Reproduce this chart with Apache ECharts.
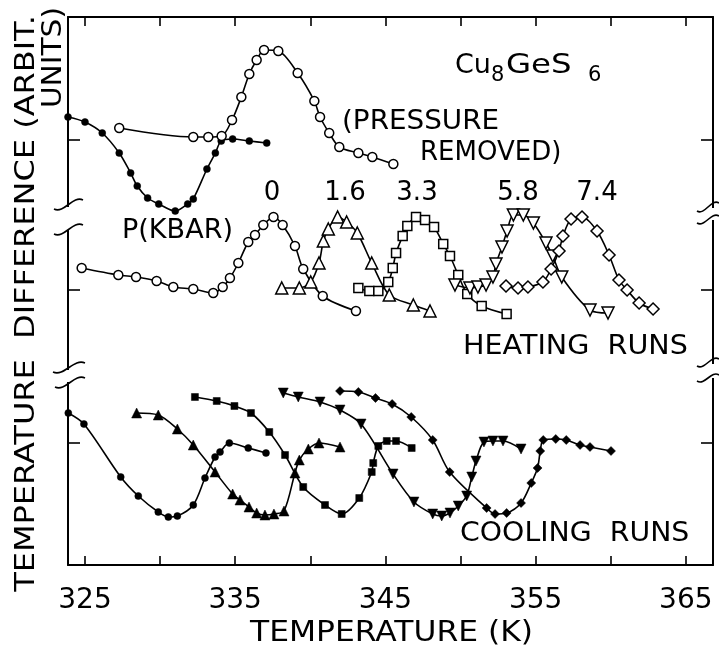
<!DOCTYPE html>
<html>
<head>
<meta charset="utf-8">
<script src="https://cdn.jsdelivr.net/npm/echarts@6/dist/echarts.min.js"></script>
<style>html,body{margin:0;padding:0;background:#fff;}#c{width:719px;height:647px;}</style>
</head>
<body>
<div id="c"></div>
<script>
// ---- axis ticks / labels ----
const xTicks = [325, 330, 335, 340, 345, 350, 355, 360, 365];
const xLabels = [325, 335, 345, 355, 365];
const yTicks = [12.2, 27.5, 42.5];

// ---- top panel: pressure cycle ----
const topFilledT = [323.87, 325.0, 326.15, 327.28, 328.04, 328.48, 329.17, 329.91, 331.01, 331.84, 332.21, 333.12, 333.68, 334.07, 334.83, 335.94, 337.10];
const topFilledY = [44.8, 44.3, 43.2, 41.2, 39.2, 37.9, 36.7, 36.1, 35.4, 36.1, 36.6, 39.6, 41.2, 42.4, 42.6, 42.4, 42.2];
const removedT = [327.28, 332.21, 333.21, 334.10, 334.79, 335.41, 335.94, 336.43, 336.92, 337.87, 339.16, 340.27, 340.65, 341.26, 341.93, 343.20, 344.13, 345.53];
const removedY = [43.7, 42.8, 42.8, 42.9, 44.5, 46.8, 49.1, 50.5, 51.5, 51.4, 49.2, 46.4, 44.8, 43.2, 41.8, 41.2, 40.8, 40.1];

// ---- heating runs (open symbols) ----
const h0T = [324.78, 327.22, 328.40, 329.77, 330.88, 332.21, 333.54, 334.17, 334.65, 335.21, 335.87, 336.32, 336.87, 337.55, 338.16, 338.98, 339.53, 340.83, 343.04];
const h0Y = [29.7, 29.0, 28.8, 28.4, 27.8, 27.6, 27.2, 27.8, 28.7, 30.2, 32.3, 33.0, 34.0, 34.8, 34.0, 31.9, 29.6, 26.9, 25.4];
const h16T = [338.10, 339.27, 340.03, 340.58, 340.87, 341.20, 341.82, 342.42, 343.13, 344.09, 345.26, 346.86, 347.97];
const h16Y = [27.7, 27.7, 28.3, 30.2, 32.4, 33.6, 34.8, 34.3, 33.2, 30.2, 27.0, 26.0, 25.4];
const h33T = [343.20, 343.93, 344.53, 345.19, 345.49, 345.71, 346.15, 346.46, 347.04, 347.64, 348.24, 348.85, 349.30, 349.85, 350.45, 351.41, 353.07];
const h33Y = [27.7, 27.4, 27.4, 28.3, 29.7, 31.2, 32.9, 33.9, 34.8, 34.5, 33.8, 32.1, 30.9, 29.0, 27.1, 25.9, 25.1];
const h58T = [349.63, 350.63, 351.16, 351.70, 352.16, 352.36, 352.76, 353.10, 353.52, 354.18, 354.85, 355.69, 356.14, 356.74, 358.62, 359.82];
const h58Y = [28.0, 27.7, 27.8, 28.0, 28.8, 30.1, 31.8, 33.4, 35.0, 35.0, 34.2, 32.2, 30.9, 28.8, 25.5, 25.2];
const h74T = [353.03, 353.83, 354.49, 355.49, 356.03, 356.56, 356.82, 357.36, 358.09, 359.09, 359.89, 360.55, 361.09, 361.89, 362.82];
const h74Y = [27.9, 27.7, 27.8, 28.3, 29.6, 31.4, 32.9, 34.6, 34.8, 33.4, 31.0, 28.5, 27.5, 26.2, 25.6];

// ---- cooling runs (filled symbols) ----
const c0T = [323.89, 324.93, 327.38, 328.55, 329.88, 330.55, 331.15, 332.21, 332.99, 333.66, 333.99, 334.61, 335.87, 337.05];
const c0Y = [15.2, 14.1, 8.8, 6.9, 5.3, 4.8, 4.9, 6.0, 8.7, 10.8, 11.3, 12.2, 11.7, 11.2];
const c16T = [328.44, 329.88, 331.15, 332.21, 333.66, 334.83, 335.32, 335.92, 336.43, 336.98, 337.58, 338.25, 338.98, 339.27, 339.87, 340.58, 341.98];
const c16Y = [15.2, 15.0, 13.6, 12.0, 9.3, 7.1, 6.5, 5.8, 5.2, 5.0, 5.1, 5.4, 9.2, 10.5, 11.6, 12.2, 11.8];
const c33T = [332.32, 333.77, 334.95, 336.05, 337.27, 338.32, 339.53, 340.98, 342.09, 343.26, 344.09, 344.19, 344.53, 345.09, 345.71, 346.75];
const c33Y = [16.8, 16.4, 15.9, 15.2, 13.3, 11.0, 7.8, 6.0, 5.1, 6.7, 9.3, 10.2, 11.9, 12.4, 12.4, 11.7];
const c58T = [338.20, 339.20, 340.65, 341.98, 343.38, 345.51, 346.90, 348.15, 348.75, 349.30, 349.85, 350.41, 350.75, 351.03, 351.56, 352.16, 352.83, 354.03];
const c58Y = [17.2, 16.8, 16.3, 15.5, 14.1, 9.1, 6.3, 5.1, 4.9, 5.2, 5.9, 6.9, 8.8, 10.4, 12.3, 12.4, 12.4, 11.6];
const c74T = [341.98, 343.20, 344.34, 345.45, 346.72, 348.15, 349.28, 351.74, 352.30, 353.07, 354.03, 354.71, 355.13, 355.31, 355.51, 356.34, 357.04, 357.96, 358.62, 360.02];
const c74Y = [17.4, 17.3, 16.7, 16.1, 14.8, 12.5, 9.3, 5.7, 5.1, 5.2, 6.2, 8.2, 9.7, 11.4, 12.5, 12.6, 12.5, 12.0, 11.8, 11.4];

// ---- text ----
const pressureLabels = ['0', '1.6', '3.3', '5.8', '7.4'];

const FONT = '"DejaVu Sans", sans-serif';
const zip = (a, b) => a.map((v, i) => [v, b[i]]);

function mk(name, T, Y, symbol, size, open, rotate) {
  return {
    name: name, type: 'line', data: zip(T, Y), smooth: 0.3,
    symbol: symbol, symbolSize: size, symbolRotate: rotate || 0,
    showAllSymbol: true, clip: false,
    lineStyle: { color: '#000', width: 1.6 },
    itemStyle: open ? { color: '#fff', borderColor: '#000', borderWidth: 1.5 }
                    : { color: '#000', borderColor: '#000', borderWidth: 0.5 },
    emphasis: { disabled: true }, animation: false
  };
}

const series = [
  mk('top filled', topFilledT, topFilledY, 'circle', 7, false),
  mk('pressure removed', removedT, removedY, 'circle', 9, true),
  mk('heat 0', h0T, h0Y, 'circle', 9, true),
  mk('heat 1.6', h16T, h16Y, 'triangle', 12, true),
  mk('heat 3.3', h33T, h33Y, 'rect', 9, true),
  mk('heat 5.8', h58T, h58Y, 'triangle', 12, true, 180),
  mk('heat 7.4', h74T, h74Y, 'diamond', 12, true),
  mk('cool 0', c0T, c0Y, 'circle', 7, false),
  mk('cool 1.6', c16T, c16Y, 'triangle', 10, false),
  mk('cool 3.3', c33T, c33Y, 'rect', 7, false),
  mk('cool 5.8', c58T, c58Y, 'triangle', 10, false, 180),
  mk('cool 7.4', c74T, c74Y, 'diamond', 9, false)
];

function txt(text, x, y, size, align, sx) {
  return { type: 'text', x: x, y: y, z: 100, silent: true, scaleX: sx || 1,
    style: { text: text, font: size + 'px ' + FONT, fill: '#000', textAlign: align || 'left', textVerticalAlign: 'middle' } };
}
function brk(x1, y1, x2, y2) {
  const dx = x2 - x1;
  return { type: 'bezierCurve', z: 100, silent: true,
    shape: { x1: x1, y1: y1, x2: x2, y2: y2,
      cpx1: x1 + dx * 0.35, cpy1: y1 + 5, cpx2: x1 + dx * 0.65, cpy2: y2 - 5 },
    style: { stroke: '#000', lineWidth: 1.6, fill: null } };
}
function gap(x, y1, y2) {
  return { type: 'rect', z: 99, silent: true, shape: { x: x - 4, y: y1, width: 8, height: y2 - y1 }, style: { fill: '#fff' } };
}

const pxPos = [272, 345, 417, 518, 597];
const graphic = [
  // compound name
  txt('Cu', 455, 66, 27), txt('8', 491, 76, 21), txt('GeS', 506, 66, 27, 'left', 1.2), txt('6', 588, 76, 21),
  txt('(PRESSURE', 342, 122, 26, 'left', 1.07), txt('REMOVED)', 420, 153, 26),
  txt('P(KBAR)', 122, 231, 26, 'left', 1.04),
  txt('HEATING  RUNS', 463, 347, 26, 'left', 1.1), txt('COOLING  RUNS', 460, 534, 26, 'left', 1.09),
  txt('TEMPERATURE (K)', 250, 634, 28, 'left', 1.12),
  // breaks
  gap(68, 207, 230), brk(54, 209, 83, 200), brk(54, 234, 83, 225),
  gap(68, 370, 382), brk(53, 372, 85, 363), brk(55, 387, 85, 378),
  gap(713, 208, 220), brk(697, 211, 719, 203), brk(697, 223, 719, 216),
  gap(713, 364, 378), brk(697, 366, 719, 359), brk(697, 381, 719, 375),
  // y title
  { type: 'text', x: 27, y: 15, rotation: Math.PI / 2, scaleX: 1.23, z: 100, silent: true,
    style: { text: 'TEMPERATURE  DIFFERENCE (ARBIT.', font: '26px ' + FONT, fill: '#000', textAlign: 'right', textVerticalAlign: 'middle' } },
  { type: 'text', x: 54, y: 7, rotation: Math.PI / 2, scaleX: 1.14, z: 100, silent: true,
    style: { text: 'UNITS)', font: '26px ' + FONT, fill: '#000', textAlign: 'right', textVerticalAlign: 'middle' } }
].concat(pressureLabels.map((p, i) => txt(p, pxPos[i], 193, 26, 'center')));

const axisCommon = {
  type: 'value', min: 323.87, max: 366.81,
  axisLine: { show: true, onZero: false, lineStyle: { color: '#000', width: 2 } },
  axisTick: { show: true, inside: true, length: 9, customValues: xTicks, lineStyle: { color: '#000', width: 1.6 } },
  splitLine: { show: false }
};
const yCommon = {
  type: 'value', min: 0, max: 54.8,
  axisLine: { show: true, onZero: false, lineStyle: { color: '#000', width: 2 } },
  axisTick: { show: true, inside: true, length: 12, customValues: yTicks, lineStyle: { color: '#000', width: 1.6 } },
  axisLabel: { show: false }, splitLine: { show: false }
};

const chart = echarts.init(document.getElementById('c'), null, { renderer: 'canvas' });
chart.setOption({
  backgroundColor: '#fff',
  animation: false,
  grid: { left: 68, right: 6, top: 17, bottom: 82 },
  xAxis: [
    Object.assign({}, axisCommon, {
      position: 'bottom',
      axisLabel: { show: true, customValues: xLabels, fontSize: 28, fontFamily: FONT, color: '#000', margin: 22 }
    }),
    Object.assign({}, axisCommon, { position: 'top', axisLabel: { show: false } })
  ],
  yAxis: [
    Object.assign({}, yCommon, { position: 'left' }),
    Object.assign({}, yCommon, { position: 'right' })
  ],
  series: series,
  graphic: graphic
});
</script>
</body>
</html>
